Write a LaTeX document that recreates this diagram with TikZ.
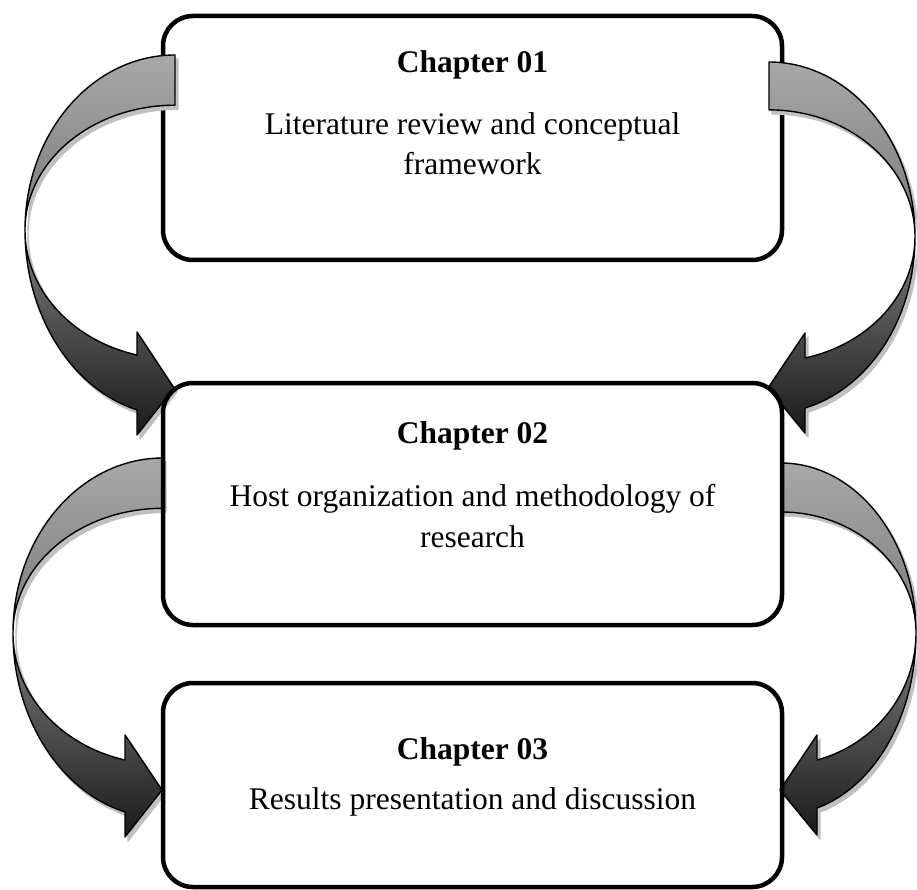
\documentclass[tikz,border=0pt]{standalone}
\usepackage{fontspec}
\setmainfont{Liberation Serif}

\definecolor{ribbontop}{RGB}{168,168,168}
\definecolor{ribbonmid}{RGB}{118,118,118}
\definecolor{ribbonbot}{RGB}{26,26,26}
\definecolor{ribbonshade}{RGB}{192,192,192}

\tikzset{
  chapbox/.style={draw=black, line width=4.5pt, rounded corners=30pt, inner sep=0pt},
  ribbon/.style={draw=black, line width=1.4pt, line join=round,
    top color=ribbontop, bottom color=ribbonbot, middle color=ribbonmid},
  ribbonshadow/.style={fill=ribbonshade, draw=ribbonshade, line width=1.4pt, line join=round},
  titletext/.style={anchor=base, inner sep=0pt, font=\bfseries\fontsize{31.5}{38}\selectfont},
  bodytext/.style={anchor=base, inner sep=0pt, font=\fontsize{31.5}{38}\selectfont},
  % curved ribbon arrows: outer and inner elliptic edges meet at the turning point
  ribbonLA/.style={insert path={
    (175,55) arc[start angle=270, end angle=180, x radius=150, y radius=175]
    arc[start angle=180, end angle=104.67, x radius=150, y radius=186]
    -- (137,435) -- (174,388) -- (137,332) -- (137,355)
    arc[start angle=104.67, end angle=180, x radius=150, y radius=129]
    arc[start angle=180, end angle=270, x radius=150, y radius=125]
    -- cycle}},
  ribbonRA/.style={insert path={
    (769,62) arc[start angle=270, end angle=360, x radius=146, y radius=175]
    arc[start angle=0, end angle=75.72, x radius=146, y radius=176.5]
    -- (805,433) -- (768,388) -- (805,333) -- (805,358)
    arc[start angle=75.72, end angle=0, x radius=146, y radius=125]
    arc[start angle=360, end angle=270, x radius=146, y radius=127]
    -- cycle}},
  ribbonLB/.style={insert path={
    (163,458) arc[start angle=270, end angle=180, x radius=150, y radius=175]
    arc[start angle=180, end angle=104.67, x radius=150, y radius=185]
    -- (125,837) -- (162,790) -- (125,735) -- (125,760)
    arc[start angle=104.67, end angle=180, x radius=150, y radius=131]
    arc[start angle=180, end angle=270, x radius=150, y radius=125]
    -- cycle}},
  ribbonRB/.style={insert path={
    (781,463) arc[start angle=270, end angle=360, x radius=135, y radius=170]
    arc[start angle=0, end angle=74.53, x radius=135, y radius=181.6]
    -- (817,835) -- (780,790) -- (817,735) -- (817,760)
    arc[start angle=74.53, end angle=0, x radius=135, y radius=131.8]
    arc[start angle=360, end angle=270, x radius=135, y radius=121]
    -- cycle}},
}

\begin{document}
\begin{tikzpicture}[x=1pt, y=-1pt]
  % page
  \fill[white] (0,0) rectangle (917,890);
  \useasboundingbox (0,0) rectangle (917,890);

  % first chapter box
  \node[chapbox, minimum width=619pt, minimum height=244pt] (box1) at (472.5,138) {};

  % ribbons from chapter 01 to chapter 02
  \path[ribbonshadow, xshift=3pt, yshift=-4pt, ribbonLA];
  \path[ribbonshadow, xshift=3pt, yshift=-4pt, ribbonRA];
  \path[ribbon, ribbonLA];
  \path[ribbon, ribbonRA];

  % ribbons from chapter 02 to chapter 03
  \path[ribbonshadow, xshift=3pt, yshift=-4pt, ribbonLB];
  \path[ribbonshadow, xshift=3pt, yshift=-4pt, ribbonRB];
  \path[ribbon, ribbonLB];
  \path[ribbon, ribbonRB];

  % remaining chapter boxes
  \node[chapbox, minimum width=619pt, minimum height=242pt] (box2) at (472.5,504) {};
  \node[chapbox, minimum width=619pt, minimum height=204pt] (box3) at (472.5,785) {};

  % labels
  \node[titletext] (t1) at (472.5,73) {Chapter 01};
  \node[bodytext] (t1a) at (472.5,135) {Literature review and conceptual};
  \node[bodytext] (t1b) at (472.5,175) {framework};

  \node[titletext] (t2) at (472.5,443) {Chapter 02};
  \node[bodytext] (t2a) at (472.5,506) {Host organization and methodology of};
  \node[bodytext] (t2b) at (472.5,547) {research};

  \node[titletext] (t3) at (472.5,759) {Chapter 03};
  \node[bodytext] (t3a) at (472.5,809) {Results presentation and discussion};
\end{tikzpicture}
\end{document}
